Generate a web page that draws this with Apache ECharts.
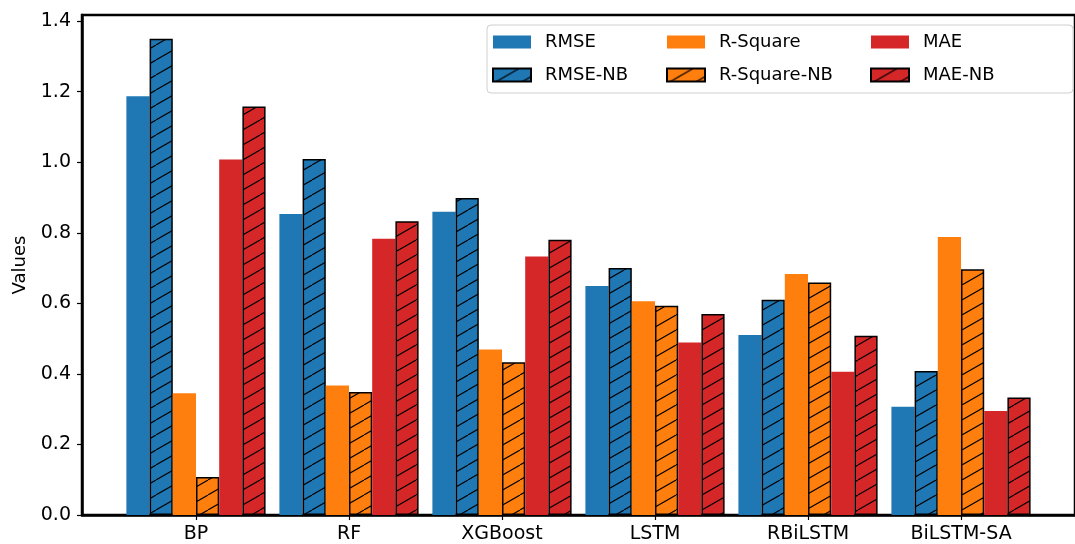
<!DOCTYPE html>
<html>
<head>
<meta charset="utf-8">
<script src="https://cdn.jsdelivr.net/npm/echarts@6/dist/echarts.min.js"></script>
<style>
html,body{margin:0;padding:0;background:#fff;}
#chart{width:1075px;height:544px;}
</style>
</head>
<body>
<div id="chart"></div>
<script>
const categories = ['BP', 'RF', 'XGBoost', 'LSTM', 'RBiLSTM', 'BiLSTM-SA'];
const rmse       = [1.187, 0.853, 0.860, 0.649, 0.510, 0.307];
const rmseNB     = [1.350, 1.009, 0.899, 0.700, 0.610, 0.408];
const rSquare    = [0.345, 0.367, 0.469, 0.606, 0.683, 0.788];
const rSquareNB  = [0.108, 0.349, 0.433, 0.593, 0.659, 0.697];
const mae        = [1.008, 0.783, 0.733, 0.489, 0.406, 0.295];
const maeNB      = [1.158, 0.833, 0.780, 0.570, 0.508, 0.333];
const yTicks     = [0, 0.2, 0.4, 0.6, 0.8, 1.0, 1.2, 1.4];

const BLUE = '#1f77b4', ORANGE = '#ff7f0e', RED = '#d62728';

function hatch(bg) {
  const W = 26, H = 15;
  const c = document.createElement('canvas');
  c.width = W; c.height = H;
  const ctx = c.getContext('2d');
  ctx.fillStyle = bg;
  ctx.fillRect(0, 0, W, H);
  ctx.strokeStyle = '#000';
  ctx.lineWidth = 1.1;
  ctx.beginPath();
  ctx.moveTo(0, H); ctx.lineTo(W, 0);
  ctx.moveTo(-W, H); ctx.lineTo(0, 0);
  ctx.moveTo(W, H); ctx.lineTo(2 * W, 0);
  ctx.stroke();
  return { image: c, repeat: 'repeat' };
}

function toPairs(arr) { return arr.map((v, i) => [i, v]); }

function barSeries(name, data, color, hatched) {
  return {
    name: name,
    type: 'bar',
    data: toPairs(data),
    barWidth: 23.2,
    barGap: '0%',
    itemStyle: hatched
      ? { color: hatch(color), borderColor: '#000', borderWidth: 1.5 }
      : { color: color, borderWidth: 0 },
    emphasis: { disabled: true },
    z: 2
  };
}

const series = [
  barSeries('RMSE', rmse, BLUE, false),
  barSeries('RMSE-NB', rmseNB, BLUE, true),
  barSeries('R-Square', rSquare, ORANGE, false),
  barSeries('R-Square-NB', rSquareNB, ORANGE, true),
  barSeries('MAE', mae, RED, false),
  barSeries('MAE-NB', maeNB, RED, true)
];

const font = 'DejaVu Sans';
function legendCol(left, names) {
  return {
    orient: 'vertical',
    left: left,
    top: 28,
    icon: 'rect',
    itemWidth: 38,
    itemHeight: 13,
    itemGap: 15,
    data: names,
    selectedMode: false,
    z: 10,
    textStyle: { fontFamily: font, fontSize: 18, color: '#000', padding: [0, 0, 0, 9], lineHeight: 18 }
  };
}

const chart = echarts.init(document.getElementById('chart'), null, { renderer: 'canvas' });
chart.setOption({
  animation: false,
  backgroundColor: '#fff',
  grid: {
    left: 82, right: -10, top: 15, bottom: 27,
    show: true, borderColor: '#000', borderWidth: 2.5, backgroundColor: 'transparent'
  },
  legend: [
    legendCol(487, ['RMSE', 'RMSE-NB']),
    legendCol(661, ['R-Square', 'R-Square-NB']),
    legendCol(865, ['MAE', 'MAE-NB'])
  ],
  graphic: [{
    type: 'rect', z: 5,
    shape: { x: 487, y: 25, width: 586, height: 68, r: 4 },
    style: { fill: 'rgba(255,255,255,0.85)', stroke: '#d0d0d0', lineWidth: 1 }
  }],
  xAxis: {
    type: 'value',
    min: -0.745, max: 5.745,
    splitLine: { show: false },
    axisLine: { show: true, onZero: false, lineStyle: { color: '#000', width: 2.5 } },
    axisTick: { show: true, length: 5, lineStyle: { color: '#000', width: 1.2 }, customValues: [0, 1, 2, 3, 4, 5] },
    axisLabel: {
      customValues: [0, 1, 2, 3, 4, 5],
      formatter: v => categories[Math.round(v)] || '',
      fontFamily: font, fontSize: 19, color: '#000', margin: 10
    }
  },
  yAxis: {
    type: 'value',
    min: 0, max: 1.4175,
    name: 'Values',
    nameLocation: 'middle',
    nameGap: 53,
    nameTextStyle: { fontFamily: font, fontSize: 18, color: '#000' },
    splitLine: { show: false },
    axisLine: { show: true, onZero: false, lineStyle: { color: '#000', width: 2.5 } },
    axisTick: { show: true, length: 5, lineStyle: { color: '#000', width: 1.2 }, customValues: yTicks },
    axisLabel: {
      customValues: yTicks,
      formatter: v => v.toFixed(1),
      fontFamily: font, fontSize: 19, color: '#000', margin: 11
    }
  },
  series: series
});
</script>
</body>
</html>
